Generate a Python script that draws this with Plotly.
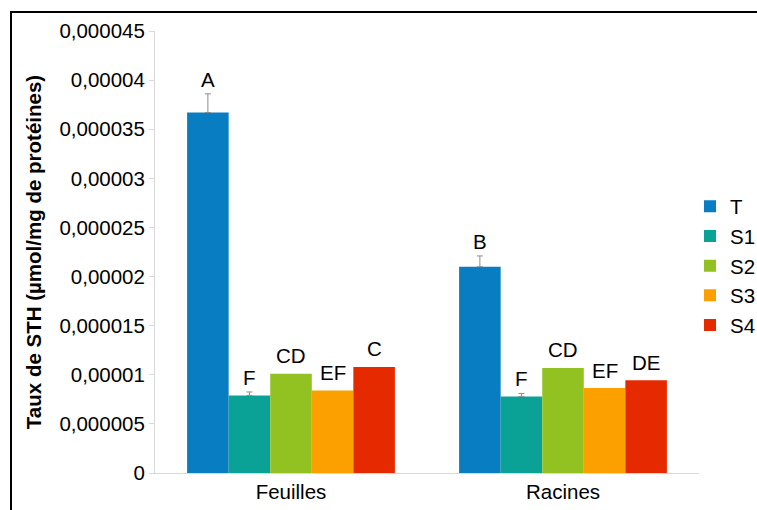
import plotly.graph_objects as go

categories = ["Feuilles", "Racines"]
series_names = ["T", "S1", "S2", "S3", "S4"]
colors = ["#087DC2", "#0AA296", "#92C122", "#FCA000", "#E62A00"]

values = {
    "T":  [36.7e-6, 21.0e-6],
    "S1": [7.9e-6, 7.8e-6],
    "S2": [10.1e-6, 10.7e-6],
    "S3": [8.4e-6, 8.65e-6],
    "S4": [10.8e-6, 9.45e-6],
}
errors = {
    "T":  [1.9e-6, 1.1e-6],
    "S1": [0.35e-6, 0.3e-6],
    "S2": [0.0, 0.0],
    "S3": [0.0, 0.0],
    "S4": [0.0, 0.0],
}
letters = {
    "T":  ["A", "B"],
    "S1": ["F", "F"],
    "S2": ["CD", "CD"],
    "S3": ["EF", "EF"],
    "S4": ["C", "DE"],
}

tick_vals = [0, 5e-6, 10e-6, 15e-6, 20e-6, 25e-6, 30e-6, 35e-6, 40e-6, 45e-6]
tick_text = ["0", "0,000005", "0,00001", "0,000015", "0,00002", "0,000025",
             "0,00003", "0,000035", "0,00004", "0,000045"]

FONT = "Liberation Sans, Arial, sans-serif"
FS = 20.5
BARGAP = 0.236

# layout geometry (pixels)
W, H = 757, 510
L, R, T, B = 155, 0, 31, 37
PLOT_W = 544
paper_w = W - L - R
paper_h = H - T - B
dom_end = PLOT_W / paper_w

fig = go.Figure()
for name, col in zip(series_names, colors):
    has_err = any(e > 0 for e in errors[name])
    fig.add_trace(go.Bar(
        name=name, x=categories, y=values[name], marker_color=col,
        marker_line_width=0,
        error_y=dict(type="data", array=errors[name], arrayminus=[0, 0],
                     symmetric=False, color="#8C8C8C", thickness=1, width=3,
                     visible=has_err),
    ))

# letter annotations above each bar (positioned from data)
n = len(series_names)
for i, name in enumerate(series_names):
    for j, cat in enumerate(categories):
        offset = (i - (n - 1) / 2) / n * (1 - BARGAP)
        err = errors[name][j]
        fig.add_annotation(
            x=j + offset, y=values[name][j] + err,
            xref="x", yref="y", text=letters[name][j], showarrow=False,
            yanchor="bottom", yshift=1 if err > 0 else 4.5,
            font=dict(family=FONT, size=FS, color="#000000"),
        )

fig.update_layout(
    width=W, height=H,
    margin=dict(l=L, r=R, t=T, b=B, autoexpand=False),
    paper_bgcolor="white", plot_bgcolor="white",
    barmode="group", bargap=BARGAP, bargroupgap=0,
    font=dict(family=FONT, size=FS, color="#000000"),
    showlegend=True,
    legend=dict(x=(690 - L) / paper_w, y=(H - B - 266) / paper_h,
                xanchor="left", yanchor="middle",
                font=dict(family=FONT, size=FS), tracegroupgap=0,
                itemwidth=30, bgcolor="rgba(0,0,0,0)"),
    xaxis=dict(type="category", domain=[0, dom_end], showline=True,
               linecolor="#D9D9D9", linewidth=1,
               ticks="", showgrid=False, tickfont=dict(size=FS),
               range=[-0.5, 1.5]),
    yaxis=dict(range=[0, 45e-6], tickvals=tick_vals, ticktext=tick_text,
               showline=True, linecolor="#D9D9D9", linewidth=1,
               ticks="outside", ticklen=5, tickcolor="#D9D9D9",
               showgrid=False, zeroline=False, tickfont=dict(size=FS),
               title=dict(text="<b>Taux de STH (µmol/mg de protéines)</b>",
                          font=dict(size=20.5), standoff=12)),
    shapes=[dict(type="rect", xref="paper", yref="paper",
                 x0=(11 - L) / paper_w, x1=1.3, y0=-0.3,
                 y1=(H - B - 12) / paper_h,
                 line=dict(color="black", width=2), fillcolor="rgba(0,0,0,0)",
                 layer="below")],
)

fig.write_html("out.html")
